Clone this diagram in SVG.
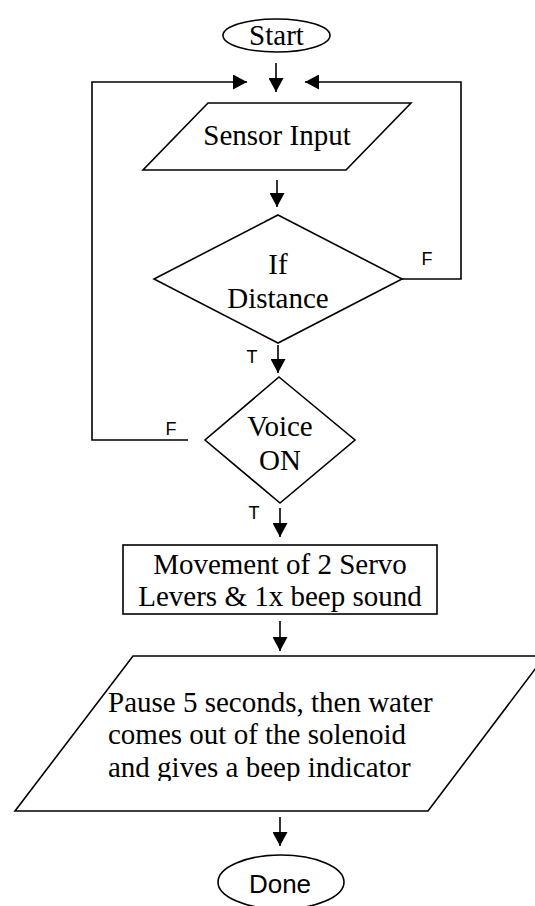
<svg xmlns="http://www.w3.org/2000/svg" width="535" height="906" viewBox="0 0 535 906">
<style>
.shape{fill:#fff;stroke:#000;stroke-width:1.6}
.conn{fill:none;stroke:#000;stroke-width:1.6}
.t{font-family:"Liberation Serif","Times New Roman",serif;font-size:29px;fill:#000;text-anchor:middle}
.tl{font-family:"Liberation Serif","Times New Roman",serif;font-size:29px;fill:#000;text-anchor:start}
.s{font-family:"Liberation Sans",Arial,sans-serif;fill:#000;text-anchor:middle}
</style>
<defs>
<marker id="ah" viewBox="0 0 14 15" refX="14" refY="7.5" markerWidth="14" markerHeight="15" markerUnits="userSpaceOnUse" orient="auto">
<path d="M0,0 L14,7.5 L0,15 z" fill="#000"/>
</marker>
<clipPath id="clipPause"><rect x="0" y="650" width="535" height="131"/></clipPath>
</defs>
<rect width="535" height="906" fill="#fff"/>
<g id="connectors">
<path class="conn" d="M276,63 V92" marker-end="url(#ah)"/>
<path class="conn" d="M188,440 H92 V82 H247" marker-end="url(#ah)"/>
<path class="conn" d="M402,279 H461 V82 H305" marker-end="url(#ah)"/>
<path class="conn" d="M277,180 V207" marker-end="url(#ah)"/>
<path class="conn" d="M278,345 V373" marker-end="url(#ah)"/>
<path class="conn" d="M280,508 V537" marker-end="url(#ah)"/>
<path class="conn" d="M280,621 V651" marker-end="url(#ah)"/>
<path class="conn" d="M280,817 V846" marker-end="url(#ah)"/>
<text class="s" x="427" y="265" font-size="18">F</text>
<text class="s" x="171" y="435" font-size="18">F</text>
<text class="s" x="252" y="363" font-size="18">T</text>
<text class="s" x="254" y="519" font-size="18">T</text>
</g>
<g id="start">
<ellipse class="shape" cx="276.5" cy="35.5" rx="53.5" ry="16.5"/>
<text class="t" x="276.5" y="45">Start</text>
</g>
<g id="sensor-input">
<polygon class="shape" points="208,103 411,103 346,170 143,170"/>
<text class="t" x="277" y="145">Sensor Input</text>
</g>
<g id="if-distance">
<polygon class="shape" points="278,215 402,279 278,343 154,279"/>
<text class="t" x="278" y="274">If</text>
<text class="t" x="278" y="308">Distance</text>
</g>
<g id="voice-on">
<polygon class="shape" points="279,377 355,440 280,503 205,440"/>
<text class="t" x="280" y="436">Voice</text>
<text class="t" x="280" y="470">ON</text>
</g>
<g id="movement">
<rect class="shape" x="123" y="545" width="314" height="69"/>
<text class="t" x="280" y="574">Movement of 2 Servo</text>
<text class="t" x="280" y="606">Levers &amp; 1x beep sound</text>
</g>
<g id="pause">
<polygon class="shape" points="133,656 545,656 428,811 15,811"/>
<g clip-path="url(#clipPause)">
<text class="tl" x="108" y="712">Pause 5 seconds, then water</text>
<text class="tl" x="108" y="744">comes out of the solenoid</text>
<text class="tl" x="108" y="777">and gives a beep indicator</text>
</g>
</g>
<g id="done">
<ellipse class="shape" cx="281" cy="882" rx="63" ry="27"/>
<text class="s" x="280" y="893" font-size="26">Done</text>
</g>
</svg>
